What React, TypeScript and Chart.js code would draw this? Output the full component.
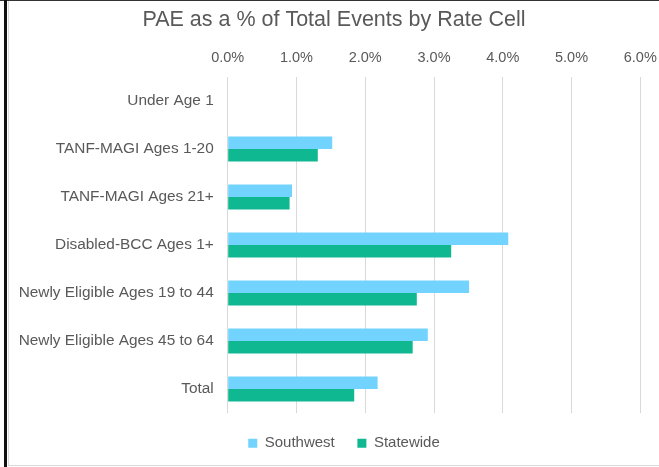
import React, { useEffect, useRef } from "react";
import { Chart, registerables } from "chart.js";

Chart.register(...registerables);

const categories = [
  "Under Age 1",
  "TANF-MAGI Ages 1-20",
  "TANF-MAGI Ages 21+",
  "Disabled-BCC Ages 1+",
  "Newly Eligible Ages 19 to 44",
  "Newly Eligible Ages 45 to 64",
  "Total",
];
const southwest = [0, 1.52, 0.935, 4.08, 3.51, 2.91, 2.18];
const statewide = [0, 1.31, 0.9, 3.25, 2.75, 2.69, 1.84];
const seriesNames = ["Southwest", "Statewide"];
const titleText = "PAE as a % of Total Events by Rate Cell";
const axisMin = 0;
const axisMax = 6;
const axisStep = 1;

const GRAY = "#595959";
const FONT = "'Liberation Sans', Arial, sans-serif";

const legendShift = {
  id: "legendShift",
  afterLayout(chart: any) {
    if (chart.legend) {
      chart.legend.left += 10;
      chart.legend.right += 10;
    }
  },
};

export default function App() {
  const ref = useRef<HTMLCanvasElement | null>(null);

  useEffect(() => {
    if (!ref.current) return;
    Chart.defaults.font.family = FONT;
    const chart = new Chart(ref.current, {
      type: "bar",
      data: {
        labels: categories,
        datasets: [
          {
            label: seriesNames[0],
            data: southwest,
            backgroundColor: "#72D3FE",
            categoryPercentage: 0.52,
            barPercentage: 1,
          },
          {
            label: seriesNames[1],
            data: statewide,
            backgroundColor: "#10B891",
            categoryPercentage: 0.52,
            barPercentage: 1,
          },
        ],
      },
      plugins: [legendShift],
      options: {
        indexAxis: "y",
        responsive: true,
        maintainAspectRatio: false,
        animation: false,
        layout: { padding: { left: 0, right: 0, top: 0, bottom: 4.3 } },
        plugins: {
          title: {
            display: true,
            text: titleText,
            color: GRAY,
            font: { family: FONT, size: 21.5, weight: "normal" },
            padding: { top: 6.5, bottom: 8 },
          },
          legend: {
            position: "bottom",
            labels: {
              boxWidth: 9,
              boxHeight: 9,
              padding: 22.6,
              color: GRAY,
              font: { family: FONT, size: 15 },
            },
          },
          tooltip: { enabled: false },
        },
        scales: {
          x: {
            position: "top",
            min: axisMin,
            max: axisMax,
            ticks: {
              stepSize: axisStep,
              callback: (v: any) => Number(v).toFixed(1) + "%",
              padding: 10,
              color: GRAY,
              font: { family: FONT, size: 14.5 },
            },
            grid: { color: "#d9d9d9", drawTicks: false },
            border: { display: false },
            afterFit: (s: any) => {
              s.height = 35.8;
              s.paddingRight = 18.7;
            },
          },
          y: {
            grid: { display: false, drawTicks: false },
            border: { display: false },
            ticks: {
              padding: 14,
              color: GRAY,
              font: { family: FONT, size: 15.4 },
            },
            afterFit: (s: any) => {
              s.width = 218.7;
            },
          },
        },
      },
    });
    return () => chart.destroy();
  }, []);

  return (
    <div
      style={{
        position: "fixed",
        left: 0,
        top: 0,
        width: 659,
        height: 467,
        background: "#fff",
        overflow: "hidden",
      }}
    >
      <div style={{ position: "absolute", left: 0, top: 0, width: 659, height: 1, background: "#333" }} />
      <div style={{ position: "absolute", left: 4, top: 0, width: 3, height: 467, background: "#111" }} />
      <div
        style={{
          position: "absolute",
          left: 8,
          top: 1,
          width: 651,
          height: 465,
          boxSizing: "border-box",
          borderLeft: "1px solid #d9d9d9",
          borderBottom: "1px solid #d9d9d9",
          overflow: "hidden",
        }}
      >
        <div style={{ position: "relative", width: 650, height: 464 }}>
          <canvas ref={ref} />
        </div>
      </div>
    </div>
  );
}
